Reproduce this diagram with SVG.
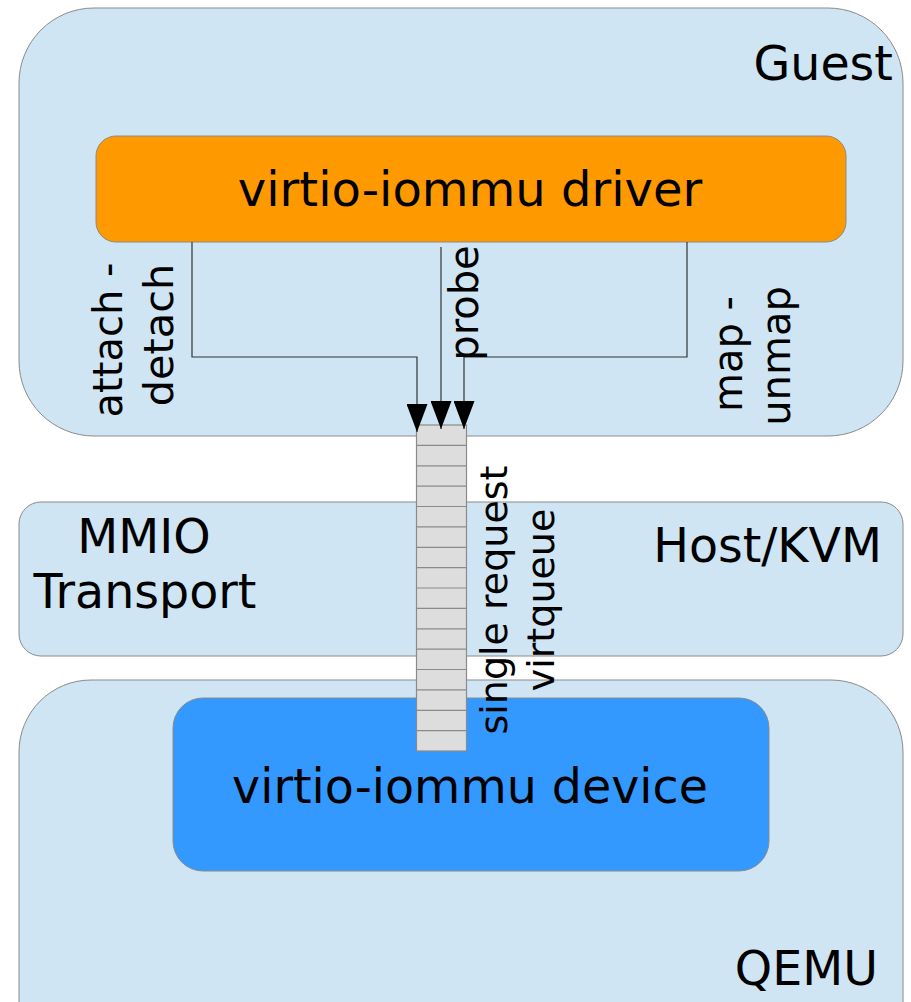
<svg xmlns="http://www.w3.org/2000/svg" width="911" height="1002" viewBox="0 0 911 1002">
<defs>
<style>
.zone{fill:#cfe5f3;stroke:#8a8a8a;stroke-width:1}
.lbl{font-family:"DejaVu Sans","Liberation Sans",sans-serif;fill:#000}
.big{font-size:47.5px}
.rot{font-size:40px}
.conn{fill:none;stroke:#333;stroke-width:1.2}
.cell{stroke:#8a8a8a;stroke-width:1.2}
</style>
<marker id="ah" viewBox="0 0 28 21" refX="28" refY="10.5" markerWidth="28" markerHeight="21" markerUnits="userSpaceOnUse" orient="auto">
<path d="M0,0 L28,10.5 L0,21 Z" fill="#000"/>
</marker>
</defs>
<rect width="911" height="1002" fill="#fff"/>
<g id="guest">
<rect class="zone" x="19" y="8" width="884" height="428" rx="75" ry="75"/>
<text class="lbl big" x="893" y="80" text-anchor="end">Guest</text>
</g>
<g id="host">
<rect class="zone" x="19" y="502" width="884" height="154" rx="22" ry="22"/>
<text class="lbl big" x="144" y="553" text-anchor="middle">MMIO</text>
<text class="lbl big" x="145" y="608" text-anchor="middle">Transport</text>
<text class="lbl big" x="882" y="562" text-anchor="end">Host/KVM</text>
</g>
<g id="qemu">
<rect class="zone" x="19" y="680" width="884" height="400" rx="72" ry="72"/>
<text class="lbl big" x="878" y="985" text-anchor="end">QEMU</text>
</g>
<g id="driver">
<rect x="96" y="136" width="750" height="106" rx="20" ry="20" fill="#ff9900" stroke="#8a8a8a" stroke-width="1"/>
<text class="lbl" font-size="48" x="470" y="206" text-anchor="middle">virtio-iommu driver</text>
</g>
<g id="device">
<rect x="173" y="698" width="596" height="173" rx="30" ry="30" fill="#3399ff" stroke="#8a8a8a" stroke-width="1"/>
<text class="lbl big" x="470" y="803" text-anchor="middle">virtio-iommu device</text>
</g>
<g id="virtqueue">
<rect x="416.5" y="425" width="50" height="326" fill="#dddddd" stroke="#8a8a8a" stroke-width="1.2"/>
<path class="cell" d="M416.5,445.4H466.5M416.5,465.8H466.5M416.5,486.1H466.5M416.5,506.5H466.5M416.5,526.9H466.5M416.5,547.3H466.5M416.5,567.6H466.5M416.5,588H466.5M416.5,608.4H466.5M416.5,628.8H466.5M416.5,649.1H466.5M416.5,669.5H466.5M416.5,689.9H466.5M416.5,710.3H466.5M416.5,730.6H466.5"/>
<text class="lbl" font-size="38" transform="translate(507,600) rotate(-90)" text-anchor="middle">single request</text>
<text class="lbl" font-size="38" transform="translate(554,600) rotate(-90)" text-anchor="middle">virtqueue</text>
</g>
<g id="connectors">
<path class="conn" d="M192,242V357H417V432" marker-end="url(#ah)"/>
<path class="conn" d="M441,247V429" marker-end="url(#ah)"/>
<path class="conn" d="M687,242V357H464V429" marker-end="url(#ah)"/>
<text class="lbl rot" transform="translate(122,340) rotate(-90)" text-anchor="middle">attach -</text>
<text class="lbl" font-size="41.5" transform="translate(173,335) rotate(-90)" text-anchor="middle">detach</text>
<text class="lbl rot" transform="translate(478,303) rotate(-90)" text-anchor="middle">probe</text>
<text class="lbl rot" transform="translate(742,354) rotate(-90)" text-anchor="middle">map -</text>
<text class="lbl rot" transform="translate(790,356) rotate(-90)" text-anchor="middle">unmap</text>
</g>
</svg>
